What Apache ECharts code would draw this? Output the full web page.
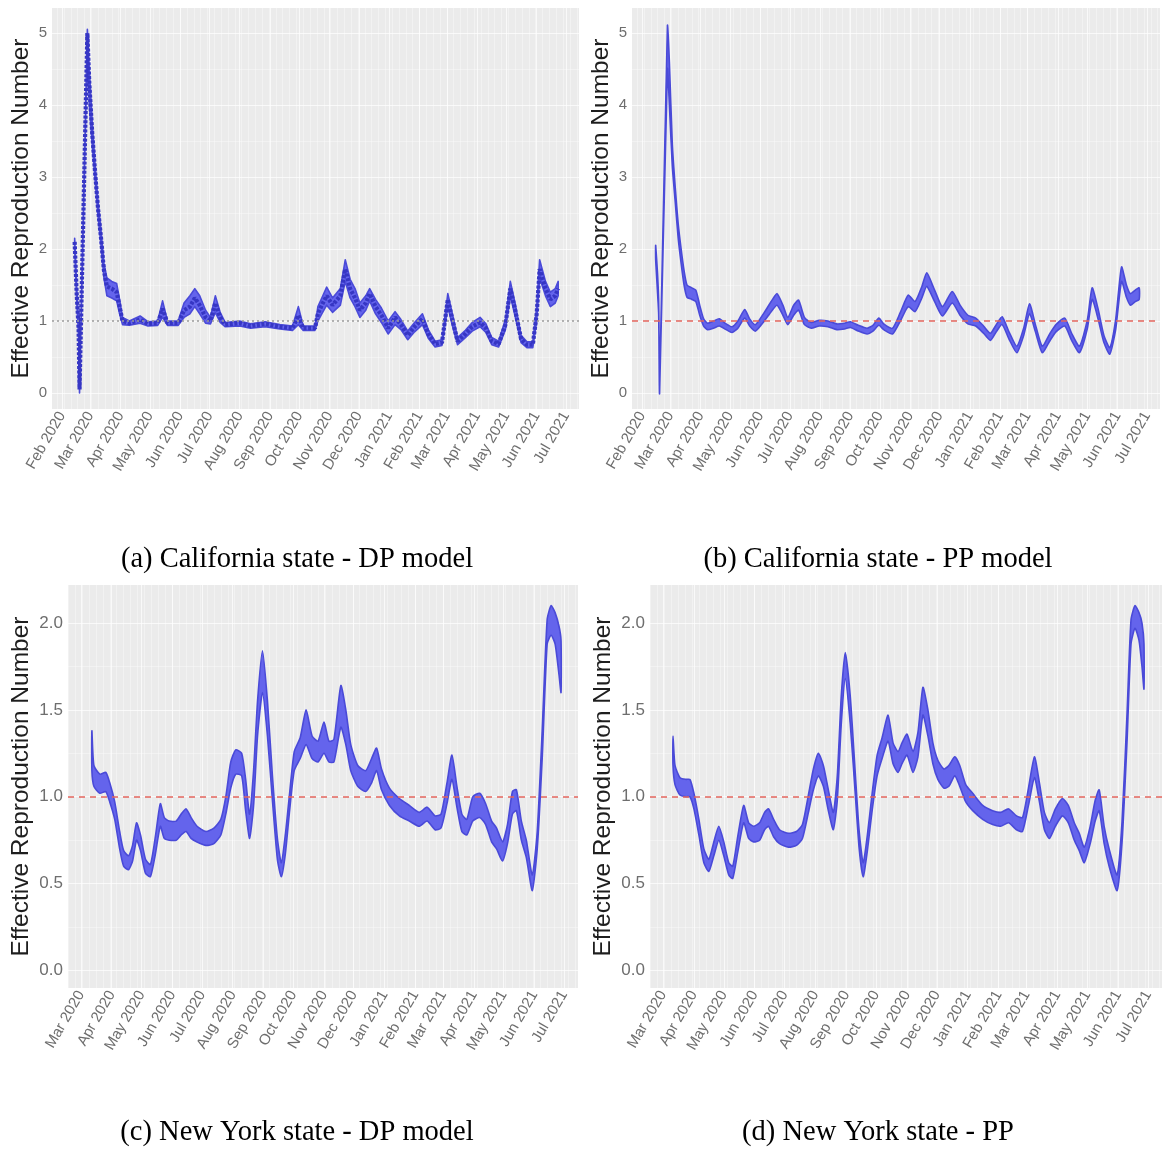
<!DOCTYPE html>
<html>
<head>
<meta charset="utf-8">
<script src="https://cdn.jsdelivr.net/npm/echarts@6/dist/echarts.min.js"></script>
<style>
  html, body { margin: 0; padding: 0; background: #ffffff; }
  #chart { width: 1164px; height: 1151px; }
</style>
</head>
<body>
<div id="chart"></div>
<script>
// ---------- California, DP model: posterior band and median ----------
const caDpDates = ['2020-02-14','2020-02-16','2020-02-18','2020-02-19','2020-02-27','2020-02-29','2020-03-03','2020-03-06','2020-03-09','2020-03-12','2020-03-15','2020-03-18','2020-03-23','2020-03-28','2020-03-31','2020-04-03','2020-04-10','2020-04-21','2020-04-29','2020-05-09','2020-05-14','2020-05-19','2020-05-30','2020-06-05','2020-06-11','2020-06-16','2020-06-21','2020-06-27','2020-07-02','2020-07-07','2020-07-12','2020-07-17','2020-08-01','2020-08-12','2020-08-27','2020-09-11','2020-09-24','2020-09-30','2020-10-05','2020-10-17','2020-10-20','2020-10-24','2020-10-29','2020-11-04','2020-11-12','2020-11-17','2020-11-22','2020-11-27','2020-12-02','2020-12-08','2020-12-12','2020-12-18','2020-12-24','2020-12-31','2021-01-07','2021-01-13','2021-01-20','2021-01-27','2021-02-04','2021-02-10','2021-02-17','2021-02-24','2021-03-02','2021-03-07','2021-03-12','2021-03-20','2021-03-27','2021-04-04','2021-04-10','2021-04-16','2021-04-23','2021-04-30','2021-05-05','2021-05-10','2021-05-16','2021-05-22','2021-05-28','2021-06-01','2021-06-04','2021-06-10','2021-06-15','2021-06-20','2021-06-23'];
const caDpLow  = [2.0,1.3,0.8,0.0,4.9,4.0,3.45,2.95,2.45,2.05,1.6,1.35,1.32,1.28,1.1,0.95,0.94,0.97,0.93,0.94,1.05,0.94,0.94,1.05,1.1,1.2,1.1,0.97,0.96,1.12,0.98,0.92,0.93,0.9,0.92,0.89,0.87,0.95,0.87,0.87,1.0,1.1,1.22,1.12,1.22,1.55,1.32,1.2,1.05,1.15,1.28,1.1,0.98,0.82,0.95,0.88,0.74,0.85,0.95,0.76,0.64,0.66,1.2,0.92,0.67,0.77,0.86,0.92,0.84,0.67,0.64,0.88,1.35,1.06,0.7,0.63,0.63,1.0,1.6,1.35,1.2,1.25,1.35];
const caDpMid  = [2.1,1.4,0.9,0.05,5.0,4.3,3.6,3.05,2.55,2.15,1.7,1.48,1.45,1.4,1.2,1.0,0.97,1.02,0.96,0.97,1.17,0.97,0.97,1.15,1.2,1.32,1.22,1.05,1.0,1.25,1.05,0.95,0.97,0.93,0.96,0.92,0.9,1.08,0.9,0.9,1.1,1.22,1.35,1.22,1.35,1.72,1.45,1.32,1.15,1.25,1.38,1.2,1.08,0.9,1.05,0.95,0.8,0.92,1.03,0.82,0.68,0.7,1.3,1.0,0.72,0.82,0.92,0.98,0.9,0.72,0.68,0.95,1.45,1.15,0.75,0.67,0.67,1.1,1.72,1.45,1.3,1.35,1.45];
const caDpHigh = [2.15,1.5,1.0,0.1,5.05,4.5,3.75,3.15,2.65,2.25,1.8,1.6,1.55,1.52,1.3,1.05,1.0,1.07,0.99,1.0,1.28,1.0,1.0,1.25,1.35,1.45,1.35,1.15,1.05,1.35,1.12,0.98,1.0,0.96,0.99,0.95,0.93,1.2,0.93,0.93,1.2,1.32,1.47,1.32,1.45,1.85,1.58,1.45,1.25,1.35,1.45,1.3,1.18,1.0,1.13,1.02,0.86,0.98,1.1,0.88,0.72,0.74,1.38,1.08,0.77,0.87,0.98,1.05,0.96,0.77,0.72,1.02,1.55,1.24,0.8,0.71,0.71,1.2,1.85,1.55,1.4,1.45,1.55];

// ---------- California, PP model: posterior band ----------
const caPpDates = ['2020-02-15','2020-02-18','2020-02-19','2020-02-27','2020-02-29','2020-03-03','2020-03-06','2020-03-09','2020-03-12','2020-03-15','2020-03-18','2020-03-23','2020-03-27','2020-03-31','2020-04-04','2020-04-08','2020-04-14','2020-04-20','2020-04-27','2020-05-03','2020-05-09','2020-05-16','2020-05-21','2020-05-27','2020-06-05','2020-06-12','2020-06-18','2020-06-24','2020-06-29','2020-07-05','2020-07-10','2020-07-16','2020-07-23','2020-07-31','2020-08-09','2020-08-18','2020-08-26','2020-09-01','2020-09-09','2020-09-18','2020-09-24','2020-09-30','2020-10-05','2020-10-14','2020-10-22','2020-10-30','2020-11-06','2020-11-13','2020-11-18','2020-11-26','2020-12-04','2020-12-14','2020-12-22','2020-12-30','2021-01-07','2021-01-15','2021-01-22','2021-01-28','2021-02-03','2021-02-10','2021-02-18','2021-02-25','2021-03-03','2021-03-09','2021-03-16','2021-03-24','2021-03-30','2021-04-08','2021-04-15','2021-04-23','2021-05-01','2021-05-06','2021-05-12','2021-05-18','2021-05-24','2021-05-30','2021-06-05','2021-06-10','2021-06-14','2021-06-19','2021-06-23'];
const caPpLow  = [1.85,1.1,0.0,4.5,4.0,3.15,2.65,2.15,1.8,1.5,1.33,1.3,1.27,1.08,0.93,0.88,0.9,0.93,0.88,0.84,0.9,1.04,0.93,0.86,1.0,1.13,1.22,1.08,0.95,1.08,1.15,0.95,0.9,0.93,0.92,0.88,0.89,0.91,0.86,0.82,0.86,0.94,0.88,0.82,1.0,1.2,1.13,1.32,1.48,1.27,1.07,1.25,1.08,0.96,0.93,0.83,0.73,0.85,0.95,0.75,0.56,0.8,1.1,0.85,0.56,0.73,0.85,0.93,0.73,0.56,0.89,1.3,1.03,0.7,0.54,0.88,1.55,1.33,1.22,1.27,1.3];
const caPpHigh = [2.05,1.3,0.1,5.1,4.6,3.45,2.85,2.35,2.0,1.7,1.5,1.46,1.43,1.22,1.03,0.97,1.0,1.03,0.96,0.92,1.0,1.16,1.03,0.95,1.12,1.27,1.38,1.22,1.05,1.22,1.29,1.05,0.98,1.01,1.0,0.96,0.97,0.99,0.94,0.9,0.94,1.04,0.96,0.9,1.12,1.36,1.27,1.48,1.67,1.43,1.2,1.41,1.22,1.08,1.04,0.93,0.83,0.95,1.06,0.85,0.65,0.9,1.24,0.95,0.65,0.83,0.95,1.04,0.83,0.65,1.01,1.46,1.17,0.8,0.63,1.02,1.75,1.5,1.38,1.43,1.46];

// ---------- New York, DP model: posterior band ----------
const nyDpDates = ['2020-03-12','2020-03-14','2020-03-20','2020-03-26','2020-03-30','2020-04-04','2020-04-09','2020-04-13','2020-04-18','2020-04-22','2020-04-26','2020-04-30','2020-05-05','2020-05-10','2020-05-15','2020-05-20','2020-05-24','2020-05-29','2020-06-05','2020-06-10','2020-06-15','2020-06-20','2020-06-26','2020-07-05','2020-07-13','2020-07-20','2020-07-25','2020-07-30','2020-08-04','2020-08-10','2020-08-14','2020-08-18','2020-08-22','2020-08-26','2020-08-31','2020-09-05','2020-09-10','2020-09-15','2020-09-19','2020-09-23','2020-09-27','2020-10-02','2020-10-08','2020-10-14','2020-10-20','2020-10-26','2020-11-01','2020-11-06','2020-11-11','2020-11-18','2020-11-23','2020-11-28','2020-12-05','2020-12-13','2020-12-19','2020-12-24','2020-12-29','2021-01-06','2021-01-16','2021-01-26','2021-02-05','2021-02-13','2021-02-21','2021-02-27','2021-03-05','2021-03-10','2021-03-15','2021-03-20','2021-03-25','2021-03-31','2021-04-07','2021-04-13','2021-04-19','2021-04-24','2021-04-30','2021-05-05','2021-05-10','2021-05-14','2021-05-19','2021-05-24','2021-05-30','2021-06-04','2021-06-09','2021-06-14','2021-06-18','2021-06-22','2021-06-26','2021-06-28'];
const nyDpLow  = [1.15,1.06,1.02,1.03,0.97,0.87,0.7,0.6,0.58,0.63,0.75,0.69,0.56,0.54,0.67,0.83,0.76,0.75,0.75,0.78,0.8,0.76,0.74,0.72,0.73,0.78,0.9,1.05,1.13,1.12,0.92,0.76,0.95,1.35,1.6,1.35,0.98,0.64,0.54,0.67,0.9,1.15,1.22,1.3,1.22,1.2,1.25,1.2,1.2,1.4,1.3,1.15,1.06,1.03,1.08,1.15,1.04,0.95,0.89,0.86,0.83,0.86,0.81,0.82,0.96,1.1,0.94,0.8,0.78,0.86,0.88,0.84,0.74,0.7,0.63,0.73,0.9,0.92,0.75,0.65,0.46,0.7,1.22,1.88,1.93,1.88,1.7,1.6];
const nyDpHigh = [1.38,1.18,1.13,1.14,1.08,0.97,0.8,0.69,0.66,0.72,0.85,0.78,0.64,0.61,0.77,0.96,0.88,0.86,0.86,0.9,0.93,0.88,0.83,0.8,0.82,0.87,1.0,1.2,1.27,1.25,1.1,0.9,1.15,1.55,1.84,1.55,1.12,0.76,0.62,0.78,1.0,1.26,1.34,1.5,1.35,1.32,1.43,1.32,1.33,1.64,1.5,1.3,1.18,1.15,1.22,1.28,1.16,1.05,0.99,0.95,0.91,0.94,0.89,0.9,1.08,1.24,1.06,0.9,0.87,1.0,1.02,0.96,0.86,0.82,0.74,0.84,1.03,1.04,0.86,0.75,0.55,0.8,1.38,2.02,2.1,2.06,1.98,1.9];

// ---------- New York, PP model: posterior band ----------
const nyPpDates = ['2020-03-11','2020-03-13','2020-03-18','2020-03-24','2020-03-28','2020-04-01','2020-04-06','2020-04-11','2020-04-16','2020-04-21','2020-04-26','2020-05-01','2020-05-06','2020-05-10','2020-05-15','2020-05-21','2020-05-26','2020-05-31','2020-06-06','2020-06-11','2020-06-15','2020-06-20','2020-06-26','2020-07-05','2020-07-13','2020-07-19','2020-07-25','2020-07-30','2020-08-04','2020-08-09','2020-08-14','2020-08-19','2020-08-23','2020-08-27','2020-08-31','2020-09-05','2020-09-10','2020-09-14','2020-09-18','2020-09-22','2020-09-27','2020-10-02','2020-10-07','2020-10-13','2020-10-18','2020-10-23','2020-10-27','2020-11-01','2020-11-07','2020-11-12','2020-11-17','2020-11-22','2020-11-27','2020-12-02','2020-12-08','2020-12-13','2020-12-19','2020-12-24','2020-12-30','2021-01-06','2021-01-16','2021-01-26','2021-02-03','2021-02-11','2021-02-19','2021-02-25','2021-03-03','2021-03-09','2021-03-14','2021-03-19','2021-03-24','2021-03-30','2021-04-06','2021-04-12','2021-04-18','2021-04-23','2021-04-28','2021-05-04','2021-05-09','2021-05-13','2021-05-18','2021-05-23','2021-05-31','2021-06-05','2021-06-10','2021-06-14','2021-06-18','2021-06-22','2021-06-25','2021-06-27'];
const nyPpLow  = [1.18,1.07,1.01,1.0,1.0,0.93,0.78,0.62,0.57,0.66,0.75,0.66,0.55,0.53,0.68,0.85,0.76,0.74,0.75,0.81,0.83,0.77,0.73,0.71,0.72,0.76,0.91,1.04,1.12,1.06,0.92,0.81,0.98,1.42,1.68,1.42,1.02,0.7,0.54,0.68,0.92,1.12,1.22,1.32,1.19,1.14,1.19,1.24,1.14,1.23,1.47,1.35,1.19,1.1,1.05,1.06,1.12,1.06,0.97,0.92,0.87,0.84,0.83,0.85,0.81,0.8,0.95,1.11,0.97,0.81,0.76,0.83,0.89,0.85,0.75,0.69,0.62,0.73,0.86,0.92,0.73,0.6,0.46,0.74,1.32,1.88,1.97,1.9,1.75,1.62];
const nyPpHigh = [1.35,1.18,1.11,1.1,1.1,1.02,0.87,0.7,0.64,0.74,0.83,0.74,0.62,0.6,0.77,0.95,0.85,0.83,0.85,0.91,0.93,0.87,0.81,0.79,0.8,0.84,1.01,1.16,1.25,1.18,1.04,0.91,1.12,1.58,1.83,1.58,1.14,0.8,0.62,0.77,1.02,1.24,1.34,1.47,1.31,1.26,1.31,1.36,1.26,1.37,1.63,1.5,1.31,1.21,1.16,1.18,1.23,1.18,1.07,1.02,0.95,0.92,0.91,0.93,0.89,0.88,1.05,1.23,1.08,0.91,0.85,0.93,0.99,0.95,0.85,0.79,0.71,0.83,0.98,1.04,0.83,0.7,0.55,0.86,1.48,2.02,2.1,2.06,2.0,1.88];

// ---------- axis tick values ----------
const monthsCA = ['2020-02-01','2020-03-01','2020-04-01','2020-05-01','2020-06-01','2020-07-01','2020-08-01','2020-09-01','2020-10-01','2020-11-01','2020-12-01','2021-01-01','2021-02-01','2021-03-01','2021-04-01','2021-05-01','2021-06-01','2021-07-01'];
const monthsNY = ['2020-03-01','2020-04-01','2020-05-01','2020-06-01','2020-07-01','2020-08-01','2020-09-01','2020-10-01','2020-11-01','2020-12-01','2021-01-01','2021-02-01','2021-03-01','2021-04-01','2021-05-01','2021-06-01','2021-07-01'];
const yTicksCA = [0, 1, 2, 3, 4, 5];
const yTicksNY = [0, 0.5, 1, 1.5, 2];
const captions = ['(a) California state - DP model', '(b) California state - PP model', '(c) New York state - DP model', '(d) New York state - PP'];

// ---------- drawing ----------
const DAY = 86400000;
const ts = s => Date.parse(s);
const MONTH_NAMES = ['Jan','Feb','Mar','Apr','May','Jun','Jul','Aug','Sep','Oct','Nov','Dec'];
const monthLabel = v => { const d = new Date(v); return MONTH_NAMES[d.getUTCMonth()] + ' ' + d.getUTCFullYear(); };

const BAND_FILL = '#6464ec';
const BAND_EDGE = '#4a4ad8';
const GRID_MAJOR = 'rgba(255,255,255,0.7)';
const GRID_MINOR = 'rgba(255,255,255,0.45)';
const TICK_COLOR = '#6e6e6e';

const caXMin = ts('2020-02-01') - 10.2 * DAY, caXMax = ts('2021-07-01') + 13.3 * DAY;
const nyXMin = ts('2020-03-01') - 13.1 * DAY, nyXMax = ts('2021-07-01') + 14.1 * DAY;

const panels = [
  { grid: { left: 52, top: 8, width: 527, height: 401 }, xMin: caXMin, xMax: caXMax, yMin: -0.222, yMax: 5.347,
    yTicks: yTicksCA, months: monthsCA, dates: caDpDates, low: caDpLow, high: caDpHigh, mid: caDpMid, smooth: 0,
    yFmt: v => String(v), yFont: 15, nameGap: 18, ref: { color: '#9a9a9a', width: 1.6, type: [2, 3] }, cap: [297, 560] },
  { grid: { left: 632, top: 8, width: 528, height: 401 }, xMin: caXMin, xMax: caXMax, yMin: -0.222, yMax: 5.347,
    yTicks: yTicksCA, months: monthsCA, dates: caPpDates, low: caPpLow, high: caPpHigh, smooth: 0.2,
    yFmt: v => String(v), yFont: 15, nameGap: 18, ref: { color: '#e2645c', width: 1.6, type: [6, 5] }, cap: [878, 560] },
  { grid: { left: 68, top: 585, width: 510, height: 403 }, xMin: nyXMin, xMax: nyXMax, yMin: -0.101, yMax: 2.219,
    yTicks: yTicksNY, months: monthsNY, dates: nyDpDates, low: nyDpLow, high: nyDpHigh, smooth: 0.2,
    yFmt: v => v.toFixed(1), yFont: 17, nameGap: 34, ref: { color: '#e2645c', width: 1.6, type: [6, 5] }, cap: [297, 1133] },
  { grid: { left: 650, top: 585, width: 512, height: 403 }, xMin: nyXMin, xMax: nyXMax, yMin: -0.101, yMax: 2.219,
    yTicks: yTicksNY, months: monthsNY, dates: nyPpDates, low: nyPpLow, high: nyPpHigh, smooth: 0.2,
    yFmt: v => v.toFixed(1), yFont: 17, nameGap: 34, ref: { color: '#e2645c', width: 1.6, type: [6, 5] }, cap: [878, 1133] }
];

const grids = [], xAxes = [], yAxes = [], series = [], graphics = [];

panels.forEach((p, i) => {
  grids.push(Object.assign({ show: true, backgroundColor: '#ebebeb', borderWidth: 0 }, p.grid));

  const monthVals = p.months.map(ts);
  xAxes.push({
    type: 'value', gridIndex: i, min: p.xMin, max: p.xMax, scale: true,
    axisLine: { show: false }, axisTick: { show: false }, splitLine: { show: false },
    axisLabel: {
      customValues: monthVals, formatter: v => monthLabel(v),
      rotate: 60, align: 'right', verticalAlign: 'middle', margin: 4,
      fontFamily: 'Liberation Sans', fontSize: 15, color: TICK_COLOR, hideOverlap: false
    }
  });
  yAxes.push({
    type: 'value', gridIndex: i, min: p.yMin, max: p.yMax,
    axisLine: { show: false }, axisTick: { show: false }, splitLine: { show: false },
    axisLabel: { customValues: p.yTicks, formatter: p.yFmt, margin: 5,
      fontFamily: 'Liberation Sans', fontSize: p.yFont, color: TICK_COLOR },
    name: 'Effective Reproduction Number', nameLocation: 'middle', nameGap: p.nameGap,
    nameTextStyle: { fontFamily: 'Liberation Sans', fontSize: 24.5, color: '#1e1e1e' }
  });

  // panel grid lines: weekly minor / monthly major verticals, half-step minor / major horizontals
  const lines = [];
  for (let t = ts('2020-01-06'); t < p.xMax; t += 7 * DAY) {
    if (t > p.xMin) lines.push({ xAxis: t, lineStyle: { color: GRID_MINOR, width: 0.8, type: 'solid' } });
  }
  monthVals.forEach(t => lines.push({ xAxis: t, lineStyle: { color: GRID_MAJOR, width: 1.1, type: 'solid' } }));
  const step = p.yTicks[1] - p.yTicks[0];
  p.yTicks.forEach(v => {
    lines.push({ yAxis: v, lineStyle: { color: GRID_MAJOR, width: 1.1, type: 'solid' } });
    if (v + step / 2 < p.yMax) lines.push({ yAxis: v + step / 2, lineStyle: { color: GRID_MINOR, width: 0.8, type: 'solid' } });
  });
  series.push({
    type: 'line', xAxisIndex: i, yAxisIndex: i, data: [[p.xMin, p.yMin]], symbol: 'none',
    lineStyle: { opacity: 0 }, silent: true, z: 1,
    markLine: { z: 1, silent: true, symbol: ['none', 'none'], label: { show: false }, animation: false, data: lines }
  });

  // credible band as one polygon: upper bound forward, lower bound back
  const bandData = p.dates.map((d, k) => [ts(d), p.low[k], p.high[k]]);
  series.push({
    type: 'custom', xAxisIndex: i, yAxisIndex: i, silent: true, z: 3,
    encode: { x: 0, y: [1, 2] },
    data: bandData,
    renderItem: (params, api) => {
      if (params.dataIndex !== 0) return null;
      const upper = bandData.map(r => api.coord([r[0], r[2]]));
      const lower = bandData.map(r => api.coord([r[0], r[1]])).reverse();
      return {
        type: 'polygon',
        shape: { points: upper.concat(lower), smooth: p.smooth },
        style: { fill: BAND_FILL, stroke: BAND_EDGE, lineWidth: 1.6, lineJoin: 'round' }
      };
    }
  });

  // posterior median drawn as a dotted trace
  if (p.mid) {
    series.push({
      type: 'line', xAxisIndex: i, yAxisIndex: i, symbol: 'none', silent: true, z: 4,
      lineStyle: { color: '#3636c4', width: 4.2, type: [3, 1.6] },
      data: p.dates.map((d, k) => [ts(d), p.mid[k]])
    });
  }

  // reference line at R = 1
  series.push({
    type: 'line', xAxisIndex: i, yAxisIndex: i, data: [[p.xMin, p.yMin]], symbol: 'none',
    lineStyle: { opacity: 0 }, silent: true, z: 8,
    markLine: { z: 8, silent: true, symbol: ['none', 'none'], label: { show: false }, animation: false,
      data: [{ yAxis: 1, lineStyle: p.ref }] }
  });

  graphics.push({
    type: 'text', x: p.cap[0], y: p.cap[1],
    style: { text: captions[i], fill: '#000', font: '28.5px "Liberation Serif"', textAlign: 'center', textVerticalAlign: 'middle' }
  });
});

const chart = echarts.init(document.getElementById('chart'), null, { renderer: 'canvas' });
chart.setOption({
  animation: false,
  backgroundColor: '#ffffff',
  grid: grids, xAxis: xAxes, yAxis: yAxes, series: series, graphic: graphics
});
</script>
</body>
</html>
